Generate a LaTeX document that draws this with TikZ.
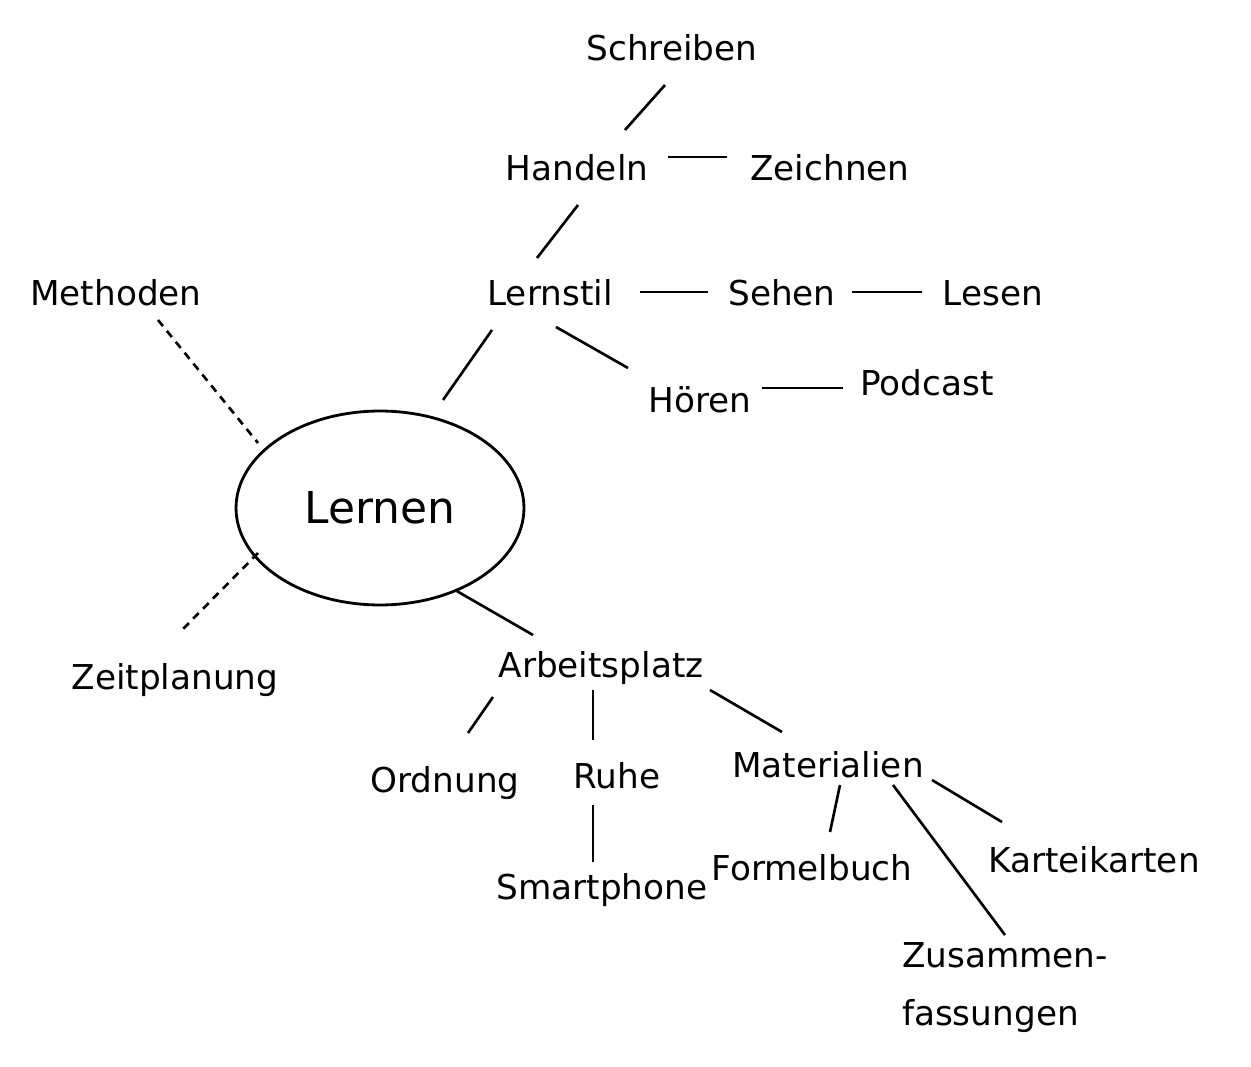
\documentclass[tikz,border=0pt]{standalone}
\usepackage{fontspec}
\setmainfont{DejaVu Sans}
\usetikzlibrary{calc}
\usetikzlibrary{shapes.geometric}

\begin{document}
\begin{tikzpicture}[x=0.02cm, y=-0.02cm,
  every node/.style={font=\fontsize{19.5}{33}\selectfont, inner sep=0pt},
  kante/.style={line width=1.5pt},
  strich/.style={kante, dash pattern=on 4.5pt off 3.5pt}]

\useasboundingbox (0,0) rectangle (1251,1067);

\node[draw, ellipse, line width=1.6pt, minimum width=5.76cm, minimum height=3.88cm,
  font=\fontsize{25}{30}\selectfont] (lernen) at (380,508) {Lernen};

\node (schreiben) at (672,48) {Schreiben};
\node (handeln) at (577,168) {Handeln};
\node (zeichnen) at (830,168) {Zeichnen};
\node (lernstil) at (550,293) {Lernstil};
\node (sehen) at (782,293) {Sehen};
\node (lesen) at (993,293) {Lesen};
\node (hoeren) at (700,400) {Hören};
\node (podcast) at (927,383) {Podcast};
\node (methoden) at (116,293) {Methoden};
\node (zeitplanung) at (175,680) {Zeitplanung};
\node (arbeitsplatz) at (601,668) {Arbeitsplatz};
\node (ordnung) at (445,783) {Ordnung};
\node (ruhe) at (617,776) {Ruhe};
\node (materialien) at (828,765) {Materialien};
\node (smartphone) at (602,890) {Smartphone};
\node (formelbuch) at (812,868) {Formelbuch};
\node (karteikarten) at (1094,860) {Karteikarten};
\node[align=left] (zusammen) at (1005,988) {Zusammen-\\fassungen};

\draw[kante] ($(schreiben)+(-7,37)$) -- ($(handeln)+(48,-38)$);
\draw[kante] ($(handeln)+(91,-11)$) -- ($(zeichnen)+(-103,-11)$);
\draw[kante] ($(handeln)+(1,37)$) -- ($(lernstil)+(-13,-35)$);
\draw[kante] ($(lernstil)+(90,-1)$) -- ($(sehen)+(-74,-1)$);
\draw[kante] ($(sehen)+(70,-1)$) -- ($(lesen)+(-71,-1)$);
\draw[kante] ($(lernstil)+(6,34)$) -- ($(hoeren)+(-72,-32)$);
\draw[kante] ($(hoeren)+(62,-12)$) -- ($(podcast)+(-84,5)$);
\draw[kante] ($(lernstil)+(-58,37)$) -- ($(lernen)+(63,-108)$);

\draw[strich] ($(methoden)+(42,27)$) -- ($(lernen)+(-122,-65)$);
\draw[strich] ($(lernen)+(-122,45)$) -- ($(zeitplanung)+(7,-50)$);

\draw[kante] ($(lernen)+(75,82)$) -- ($(arbeitsplatz)+(-68,-33)$);
\draw[kante] ($(arbeitsplatz)+(-108,29)$) -- ($(ordnung)+(23,-50)$);
\draw[kante] ($(arbeitsplatz)+(-8,22)$) -- ($(ruhe)+(-24,-36)$);
\draw[kante] ($(arbeitsplatz)+(109,22)$) -- ($(materialien)+(-46,-33)$);
\draw[kante] ($(ruhe)+(-24,29)$) -- ($(smartphone)+(-9,-28)$);
\draw[kante] ($(materialien)+(12,20)$) -- ($(formelbuch)+(18,-36)$);
\draw[kante] ($(materialien)+(65,20)$) -- ($(zusammen)+(0,-53)$);
\draw[kante] ($(materialien)+(104,15)$) -- ($(karteikarten)+(-92,-38)$);

\end{tikzpicture}
\end{document}
